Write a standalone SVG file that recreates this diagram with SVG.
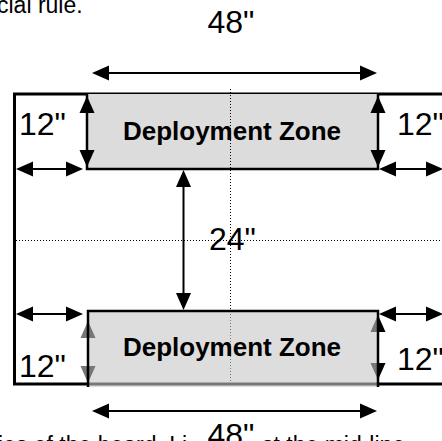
<svg xmlns="http://www.w3.org/2000/svg" width="442" height="441" viewBox="0 0 442 441">
  <defs>
    <marker id="head" markerUnits="userSpaceOnUse" markerWidth="17" markerHeight="17" viewBox="0 0 17 17" refX="14" refY="8.5" orient="auto-start-reverse">
      <path d="M0,1 L17,8.5 L0,16 z" fill="#000"/>
    </marker>
    <marker id="head-grey" markerUnits="userSpaceOnUse" markerWidth="17" markerHeight="17" viewBox="0 0 17 17" refX="14" refY="8.5" orient="auto-start-reverse">
      <path d="M0,1 L17,8.5 L0,16 z" fill="#777"/>
    </marker>
    <style>
      .dim { stroke: #000; stroke-width: 2; fill: none; marker-start: url(#head); marker-end: url(#head); }
      .dim-grey { stroke: #777; stroke-width: 2; fill: none; marker-start: url(#head-grey); marker-end: url(#head-grey); }
      .guide { stroke: #000; stroke-width: 1; stroke-dasharray: 1 2; fill: none; shape-rendering: crispEdges; }
      .label { font-family: "Liberation Sans", Arial, sans-serif; font-size: 32px; fill: #000; }
      .zone-label { font-family: "Liberation Sans", Arial, sans-serif; font-size: 26px; font-weight: bold; fill: #000; text-anchor: middle; }
      .body { font-family: "Liberation Sans", Arial, sans-serif; font-size: 23px; fill: #000; }
    </style>
  </defs>

  <rect width="442" height="441" fill="#fff"/>

  <!-- surrounding paragraph text, cut by the page edges -->
  <text class="body" x="-3" y="13">cial rule.</text>
  <text class="body" x="-2" y="453">ies of the board. Li</text>
  <text class="body" x="262" y="453">st the mid-line</text>

  <!-- table edge -->
  <g id="board">
    <path d="M446,94 H14.5 V384 H446" fill="none" stroke="#000" stroke-width="3"/>
  </g>

  <!-- top deployment zone (opaque) -->
  <g id="zone-top">
    <rect x="87" y="94" width="291" height="75" fill="#dcdcdc"/>
    <path d="M87,94 V169 H378 V94" fill="none" stroke="#000" stroke-width="2.5"/>
  </g>

  <!-- centre lines -->
  <g id="centre-lines">
    <line class="guide" x1="230.5" y1="89" x2="230.5" y2="383"/>
    <line class="guide" x1="16" y1="240.5" x2="442" y2="240.5"/>
  </g>

  <g id="connectors">
    <!-- 48" widths -->
    <line class="dim" x1="95" y1="73" x2="374" y2="73"/>
    <line class="dim" x1="95" y1="411" x2="374" y2="411"/>
    <!-- top zone depth -->
    <line class="dim" x1="87" y1="99" x2="87" y2="164"/>
    <line class="dim" x1="378" y1="99" x2="378" y2="164"/>
    <!-- offsets from the short edges -->
    <line class="dim" x1="19" y1="169" x2="80" y2="169"/>
    <line class="dim" x1="382" y1="169" x2="440" y2="169"/>
    <line class="dim" x1="19" y1="314" x2="80" y2="314"/>
    <line class="dim" x1="382" y1="314" x2="440" y2="314"/>
    <!-- gap between zones -->
    <line class="dim" x1="183.5" y1="173" x2="183.5" y2="307"/>
    <!-- bottom zone depth -->
    <line class="dim" x1="378" y1="318" x2="378" y2="377"/>
  </g>

  <!-- bottom deployment zone (translucent, drawn over the guides) -->
  <g id="zone-bottom">
    <rect x="88" y="311" width="290" height="76" fill="#c6c6c6" fill-opacity="0.6"/>
    <line class="dim-grey" x1="88" y1="324" x2="88" y2="380"/>
    <path d="M88,387 V311 H378 V387" fill="none" stroke="#000" stroke-width="2.5"/>
  </g>

  <g id="labels">
    <text class="label" x="231" y="33" text-anchor="middle">48"</text>
    <text class="label" x="19" y="135">12"</text>
    <text class="label" x="397" y="135">12"</text>
    <text class="zone-label" x="232" y="140">Deployment Zone</text>
    <text class="label" x="209" y="250">24"</text>
    <text class="zone-label" x="232" y="356">Deployment Zone</text>
    <text class="label" x="19" y="377">12"</text>
    <text class="label" x="397" y="370">12"</text>
    <rect x="205" y="420" width="52" height="21" fill="#fff"/>
    <text class="label" x="231" y="446" text-anchor="middle">48"</text>
  </g>
</svg>
